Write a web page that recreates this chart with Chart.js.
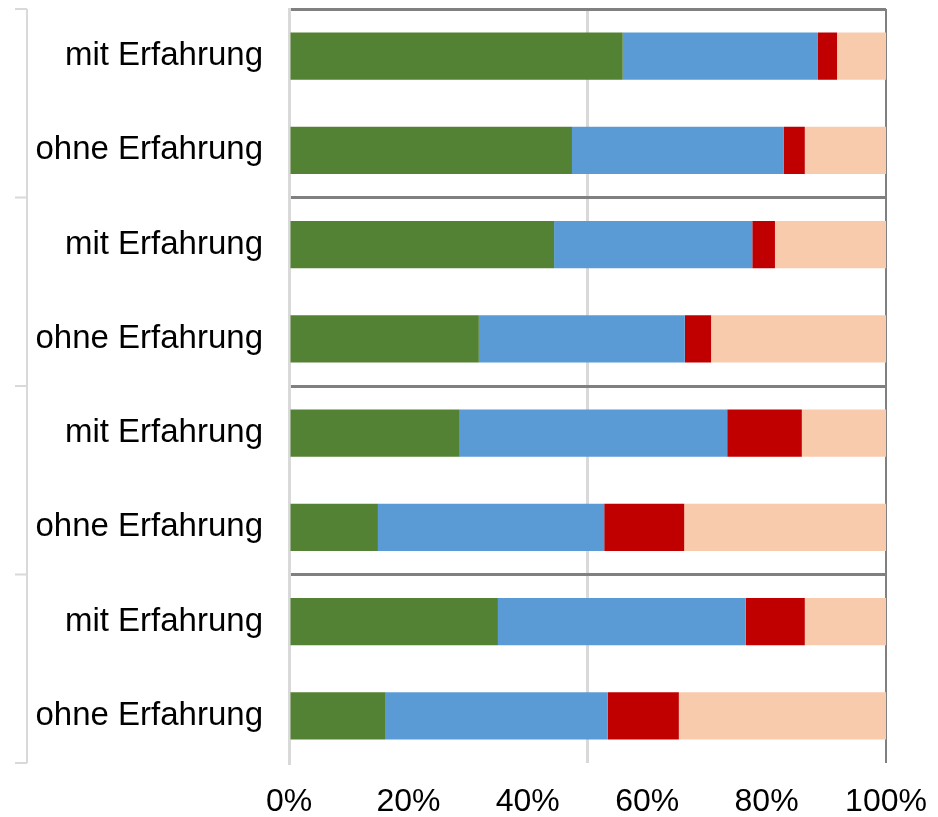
<!DOCTYPE html>
<html>
<head>
<meta charset="utf-8">
<script src="https://cdn.jsdelivr.net/npm/chart.js@4.4.1/dist/chart.umd.min.js"></script>
<style>
  html, body { margin: 0; padding: 0; background: #ffffff; }
  #wrap { width: 938px; height: 817px; position: relative; }
</style>
</head>
<body>
<div id="wrap"><canvas id="c" width="938" height="817"></canvas></div>
<script>
// Categories (inner level; outer group labels are blank in the reference)
const categories = [
  "mit Erfahrung", "ohne Erfahrung",
  "mit Erfahrung", "ohne Erfahrung",
  "mit Erfahrung", "ohne Erfahrung",
  "mit Erfahrung", "ohne Erfahrung"
];
// Series values (percent, each row sums to 100)
const greenValues = [55.9, 47.4, 44.4, 31.8, 28.6, 14.9, 35.0, 16.2];
const blueValues  = [32.7, 35.5, 33.2, 34.5, 44.8, 37.9, 41.5, 37.2];
const redValues   = [ 3.2,  3.5,  3.8,  4.4, 12.5, 13.4,  9.9, 11.9];
const peachValues = [ 8.2, 13.6, 18.6, 29.3, 14.1, 33.8, 13.6, 34.7];
// Tick labels on the value axis
const tickValues = [0, 20, 40, 60, 80, 100];
// Group boundaries (category index where each group starts, plus end)
const groupBounds = [0, 2, 4, 6, 8];

const FONT = "'Liberation Sans', Arial, sans-serif";

const bracketPlugin = {
  id: 'bracket',
  afterDraw(chart) {
    const y = chart.scales.y;
    const ctx = chart.ctx;
    const half = (y.getPixelForValue(1) - y.getPixelForValue(0)) / 2;
    const bx = 27;
    ctx.save();
    ctx.strokeStyle = '#d9d9d9';
    ctx.lineWidth = 2;
    const top = y.getPixelForValue(0) - half;
    const bottom = y.getPixelForValue(categories.length - 1) + half;
    ctx.beginPath();
    ctx.moveTo(bx, top);
    ctx.lineTo(bx, bottom);
    groupBounds.forEach(g => {
      const py = y.getPixelForValue(g) - half;
      ctx.moveTo(15, py);
      ctx.lineTo(bx, py);
    });
    ctx.stroke();
    ctx.restore();
  }
};

new Chart(document.getElementById('c'), {
  type: 'bar',
  data: {
    labels: categories,
    datasets: [
      { label: 'A', data: greenValues, backgroundColor: '#548235' },
      { label: 'B', data: blueValues,  backgroundColor: '#5B9BD5' },
      { label: 'C', data: redValues,   backgroundColor: '#C00000' },
      { label: 'D', data: peachValues, backgroundColor: '#F8CBAD' }
    ]
  },
  options: {
    indexAxis: 'y',
    responsive: false,
    animation: false,
    devicePixelRatio: 1,
    layout: { padding: { top: 9, right: 52, left: 0, bottom: 0 } },
    datasets: { bar: { categoryPercentage: 1.0, barPercentage: 0.5, borderWidth: 0 } },
    plugins: { legend: { display: false }, tooltip: { enabled: false } },
    scales: {
      x: {
        stacked: true,
        min: 0, max: 100,
        border: { display: false },
        grid: {
          drawTicks: false,
          color: c => c.tick.value === 50 ? '#d9d9d9' : (c.tick.value === 100 ? '#808080' : 'rgba(0,0,0,0)'),
          lineWidth: c => c.tick.value === 100 ? 2 : 3
        },
        ticks: {
          stepSize: 10,
          autoSkip: false,
          maxRotation: 0,
          padding: 20,
          color: '#000000',
          font: { family: FONT, size: 32 },
          callback: v => tickValues.includes(v) ? v + '%' : ''
        },
        afterFit: s => { s.height = 54; s.paddingLeft = 0; s.paddingRight = 0; }
      },
      y: {
        stacked: true,
        border: { display: true, color: '#d9d9d9', width: 3 },
        grid: {
          offset: true,
          drawTicks: false,
          color: c => groupBounds.includes(c.index) ? '#808080' : 'rgba(0,0,0,0)',
          lineWidth: 3
        },
        ticks: {
          padding: 26,
          color: '#000000',
          font: { family: FONT, size: 33 }
        },
        afterFit: s => { s.width = 289; s.paddingTop = 0; s.paddingBottom = 0; }
      }
    }
  },
  plugins: [bracketPlugin]
});
</script>
</body>
</html>
